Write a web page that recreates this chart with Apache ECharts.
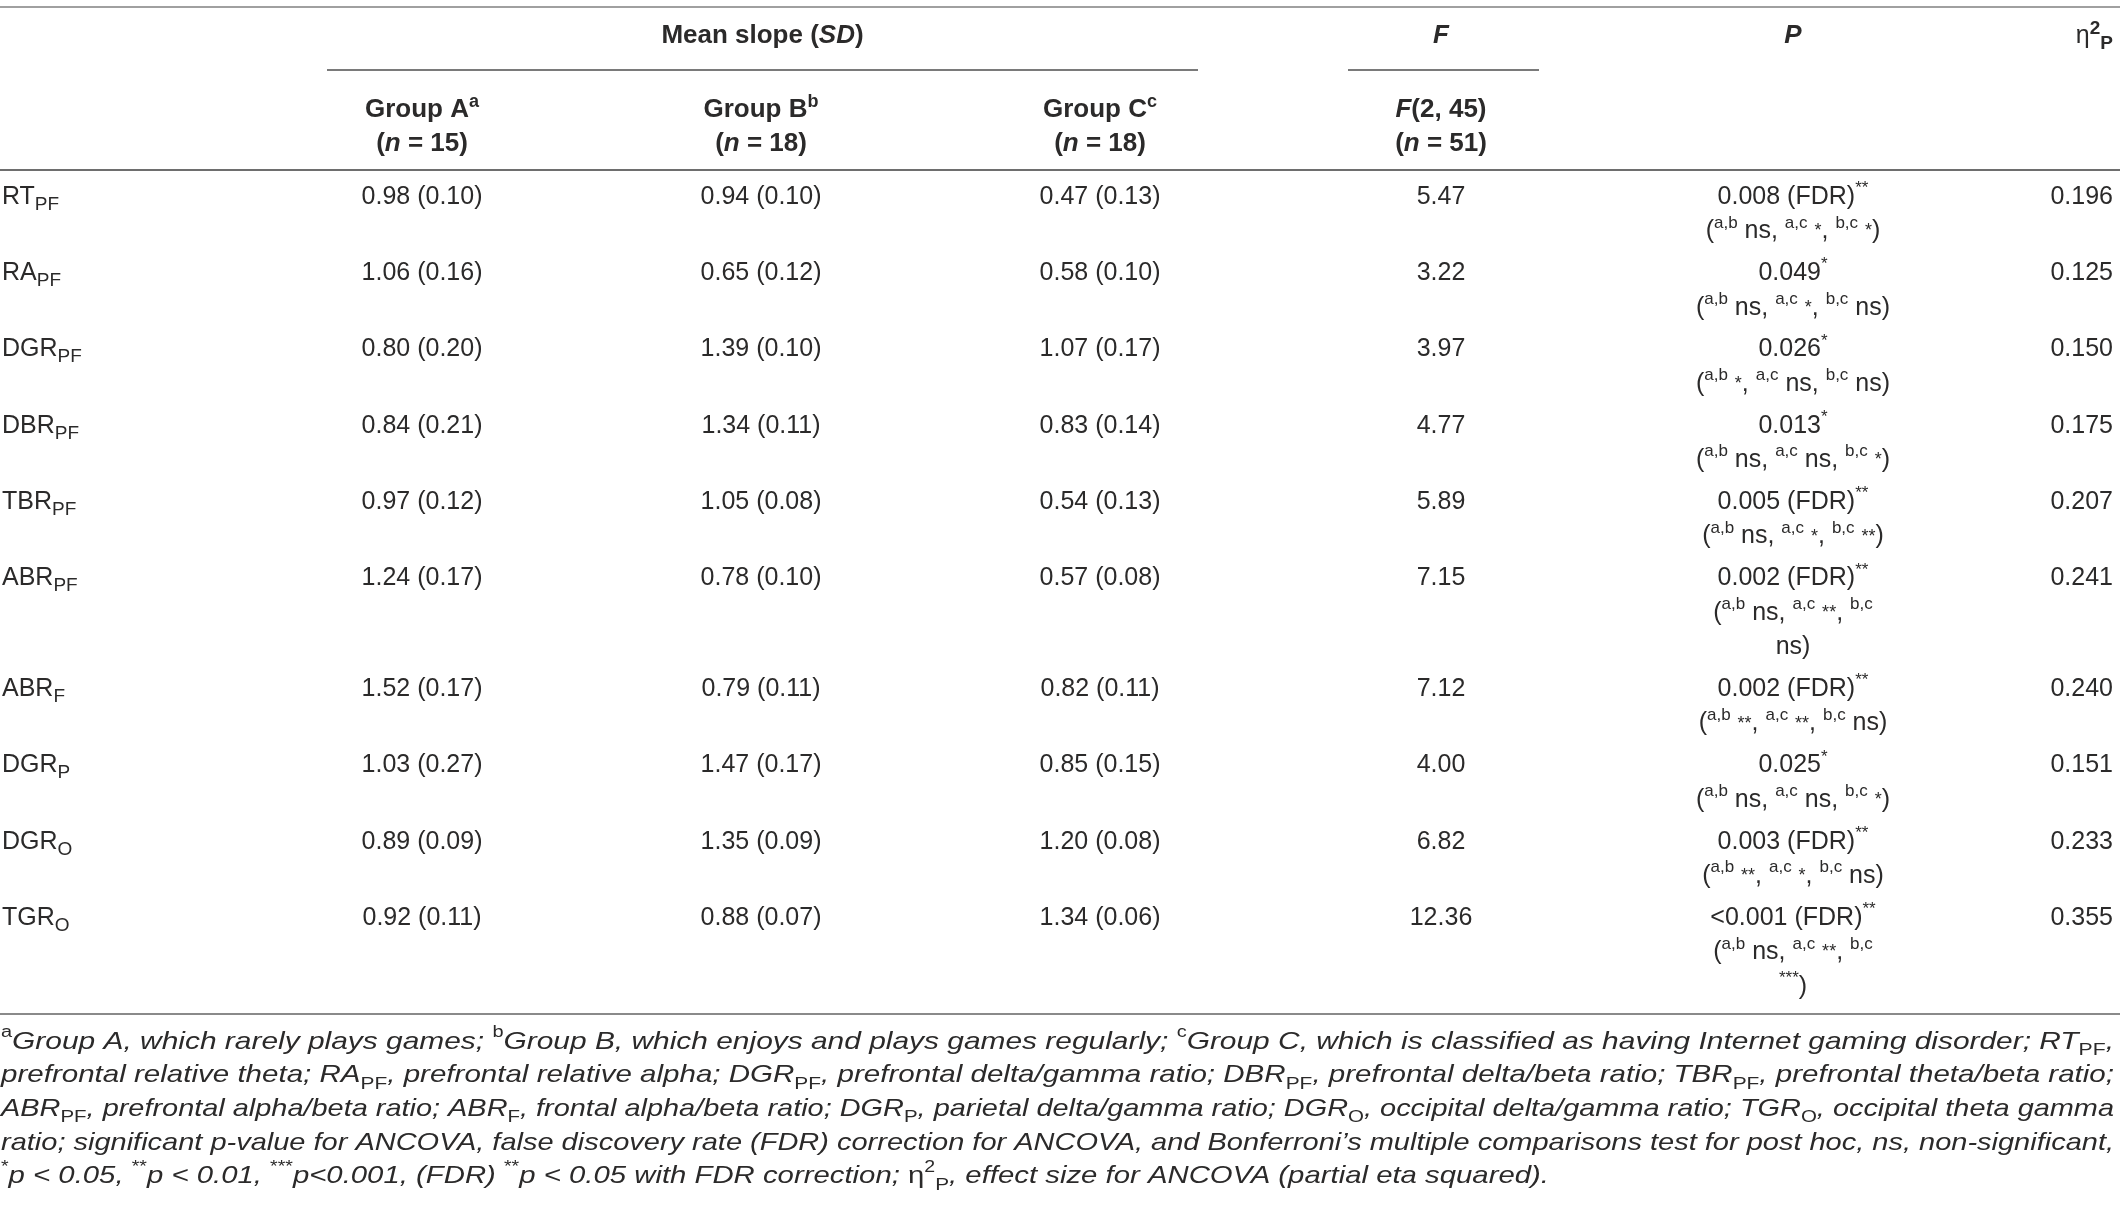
<!DOCTYPE html>
<html>
<head>
<meta charset="utf-8">
<script src="https://cdn.jsdelivr.net/npm/echarts@6/dist/echarts.min.js"></script>
<style>
    html, body { margin: 0; padding: 0; background: #fff; }
    #chart { width: 2120px; height: 1212px; }
</style>
</head>
<body>
<div id="chart"></div>
<script>
(function () {

    "use strict";

    // ---- table data -------------------------------------------------------
    var rowLabels = ['RT', 'RA', 'DGR', 'DBR', 'TBR', 'ABR', 'ABR', 'DGR', 'DGR', 'TGR'];
    var rowSubs = ['PF', 'PF', 'PF', 'PF', 'PF', 'PF', 'F', 'P', 'O', 'O'];

    var groupNames = ['Group A', 'Group B', 'Group C'];
    var groupMarks = ['a', 'b', 'c'];
    var groupN = [15, 18, 18];
    var fDf = [2, 45];
    var totalN = 51;

    var meanA = [0.98, 1.06, 0.80, 0.84, 0.97, 1.24, 1.52, 1.03, 0.89, 0.92];
    var sdA = [0.10, 0.16, 0.20, 0.21, 0.12, 0.17, 0.17, 0.27, 0.09, 0.11];
    var meanB = [0.94, 0.65, 1.39, 1.34, 1.05, 0.78, 0.79, 1.47, 1.35, 0.88];
    var sdB = [0.10, 0.12, 0.10, 0.11, 0.08, 0.10, 0.11, 0.17, 0.09, 0.07];
    var meanC = [0.47, 0.58, 1.07, 0.83, 0.54, 0.57, 0.82, 0.85, 1.20, 1.34];
    var sdC = [0.13, 0.10, 0.17, 0.14, 0.13, 0.08, 0.11, 0.15, 0.08, 0.06];

    var fValues = [5.47, 3.22, 3.97, 4.77, 5.89, 7.15, 7.12, 4.00, 6.82, 12.36];
    var pValues = ['0.008', '0.049', '0.026', '0.013', '0.005', '0.002', '0.002', '0.025', '0.003', '<0.001'];
    var pFdr = [true, false, false, false, true, true, true, false, true, true];
    var pStars = ['**', '*', '*', '*', '**', '**', '**', '*', '**', '**'];
    var postAB = ['ns', 'ns', '*', 'ns', 'ns', 'ns', '**', 'ns', '**', 'ns'];
    var postAC = ['*', '*', 'ns', 'ns', '*', '**', '**', 'ns', '*', '**'];
    var postBC = ['*', 'ns', 'ns', '*', '**', 'ns', 'ns', '*', 'ns', '***'];
    // post hoc line wraps before the last comparison in these rows
    var pWrap = [false, false, false, false, false, true, false, false, false, true];
    var etaSq = [0.196, 0.125, 0.150, 0.175, 0.207, 0.241, 0.240, 0.151, 0.233, 0.355];

    var footnotes = [
        '{fsup|a}Group A, which rarely plays games; {fsup|b}Group B, which enjoys and plays games regularly; {fsup|c}Group C, which is classified as having Internet gaming disorder; RT{fsub|PF},',
        'prefrontal relative theta; RA{fsub|PF}, prefrontal relative alpha; DGR{fsub|PF}, prefrontal delta/gamma ratio; DBR{fsub|PF}, prefrontal delta/beta ratio; TBR{fsub|PF}, prefrontal theta/beta ratio;',
        'ABR{fsub|PF}, prefrontal alpha/beta ratio; ABR{fsub|F}, frontal alpha/beta ratio; DGR{fsub|P}, parietal delta/gamma ratio; DGR{fsub|O}, occipital delta/gamma ratio; TGR{fsub|O}, occipital theta gamma',
        'ratio; significant p-value for ANCOVA, false discovery rate (FDR) correction for ANCOVA, and Bonferroni\u2019s multiple comparisons test for post hoc, ns, non-significant,',
        '{fsup|*}p < 0.05, {fsup|**}p < 0.01, {fsup|***}p<0.001, (FDR) {fsup|**}p < 0.05 with FDR correction; {feta|\u03b7}{fsup|2}{fsub|P}, effect size for ANCOVA (partial eta squared).'
    ];

    // ---- layout -------------------------------------------------------------
    var W = 2120, H = 1212;
    var FONT = "'Liberation Sans', Arial, Helvetica, sans-serif";
    var TEXT = '#2b2a2a';
    var colX = { label: 2, a: 422, b: 761, c: 1100, f: 1441, p: 1793, eta: 2113 };
    var LINE = 34.4, ROW_GAP = 7.5, FIRST_ROW = 197;

    function st(size, weight, style, extra) {
        var o = { fontFamily: FONT, fontSize: size, fontWeight: weight || 'normal', fontStyle: style || 'normal', fill: TEXT };
        for (var k in extra) { o[k] = extra[k]; }
        return o;
    }

    var bodyRich = {
        sub: st(19, 'normal', 'normal', { lineHeight: 20, verticalAlign: 'bottom' }),
        psup: st(17, 'normal', 'normal', { lineHeight: 21, verticalAlign: 'top' }),
        star: st(18, 'normal', 'normal', { lineHeight: 34 })
    };
    var headRich = {
        bi: st(26, 'bold', 'italic', { lineHeight: 34 }),
        sup: st(18, 'bold', 'normal', { lineHeight: 20, verticalAlign: 'top' }),
        eta: st(25, 'normal', 'normal', { lineHeight: 34 }),
        e2: st(19, 'bold', 'normal', { lineHeight: 20, verticalAlign: 'top' }),
        eP: st(19, 'bold', 'normal', { lineHeight: 22, verticalAlign: 'bottom' })
    };
    var footRich = {
        fsup: st(16, 'normal', 'normal', { lineHeight: 18, verticalAlign: 'top' }),
        fsub: st(17, 'normal', 'normal', { lineHeight: 20, verticalAlign: 'bottom' }),
        feta: st(24, 'normal', 'normal', { lineHeight: 34 })
    };
    var bodyBase = st(25, 'normal', 'normal', { lineHeight: 34 });
    var headBase = st(26, 'bold', 'normal', { lineHeight: 34 });
    var footBase = st(24, 'normal', 'italic', { lineHeight: 34 });

    // row positions follow the number of text lines in each row
    var rowY = [];
    var yCursor = FIRST_ROW;
    rowLabels.forEach(function (_, i) {
        rowY.push(yCursor);
        yCursor += (pWrap[i] ? 3 : 2) * LINE + ROW_GAP;
    });
    var last = rowLabels.length - 1;
    var tableBottom = rowY[last] + ((pWrap[last] ? 3 : 2) - 1) * LINE + 27;

    function sig(s, raised) {
        if (s === 'ns') { return 'ns'; }
        return '{' + (raised ? 'psup' : 'star') + '|' + s + '}';
    }

    // ---- cells ---------------------------------------------------------------
    var cells = [];
    function addCell(x, y, text, align) {
        cells.push({ x: x, y: y, text: text, align: align || 'center' });
    }

    rowLabels.forEach(function (lab, i) {
        var y = rowY[i];
        addCell(colX.label, y, lab + '{sub|' + rowSubs[i] + '}', 'left');
        addCell(colX.a, y, meanA[i].toFixed(2) + ' (' + sdA[i].toFixed(2) + ')');
        addCell(colX.b, y, meanB[i].toFixed(2) + ' (' + sdB[i].toFixed(2) + ')');
        addCell(colX.c, y, meanC[i].toFixed(2) + ' (' + sdC[i].toFixed(2) + ')');
        addCell(colX.f, y, fValues[i].toFixed(2));
        addCell(colX.p, y, pValues[i] + (pFdr[i] ? ' (FDR)' : '') + '{psup|' + pStars[i] + '}');
        var head = '({psup|a,b} ' + sig(postAB[i]) + ', {psup|a,c} ' + sig(postAC[i]) + ', {psup|b,c}';
        if (pWrap[i]) {
            addCell(colX.p, y + LINE, head);
            addCell(colX.p, y + 2 * LINE, sig(postBC[i], true) + ')');
        } else {
            addCell(colX.p, y + LINE, head + ' ' + sig(postBC[i]) + ')');
        }
        addCell(colX.eta, y, etaSq[i].toFixed(3), 'right');
    });

    // ---- header and rules ----------------------------------------------------
    var graphics = [];
    function rule(x1, x2, y, color, width) {
        graphics.push({
            type: 'line', silent: true,
            shape: { x1: x1, y1: y, x2: x2, y2: y },
            style: { stroke: color, lineWidth: width }
        });
    }
    function headText(x, y, text, align) {
        graphics.push({
            type: 'text', silent: true, x: x, y: y,
            style: Object.assign({}, headBase, { text: text, rich: headRich, align: align || 'center', verticalAlign: 'middle' })
        });
    }

    rule(0, W, 7, '#a0a0a0', 2);
    rule(327, 1198, 70, '#7a7a7a', 2);
    rule(1348, 1539, 70, '#7a7a7a', 2);
    rule(0, W, 170, '#6e6e6e', 2);
    rule(0, W, tableBottom, '#8a8a8a', 2);

    headText((327 + 1198) / 2, 36, 'Mean slope ({bi|SD})');
    headText(colX.f, 36, '{bi|F}');
    headText(colX.p, 36, '{bi|P}');
    headText(colX.eta, 36, '{eta|\u03b7}{e2|2}{eP|P}', 'right');
    [colX.a, colX.b, colX.c].forEach(function (x, g) {
        headText(x, 110, groupNames[g] + '{sup|' + groupMarks[g] + '}');
        headText(x, 144, '({bi|n} = ' + groupN[g] + ')');
    });
    headText(colX.f, 110, '{bi|F}(' + fDf.join(', ') + ')');
    headText(colX.f, 144, '({bi|n} = ' + totalN + ')');

    // ---- footnote: each line stretched to the full width like the print -------
    var ctx = document.createElement('canvas').getContext('2d');
    function fontOf(s) {
        return s.fontStyle + ' ' + s.fontWeight + ' ' + s.fontSize + 'px ' + s.fontFamily;
    }
    function richWidth(str) {
        var re = /\{(\w+)\|([^}]*)\}|([^{}]+)/g, m, w = 0;
        while ((m = re.exec(str))) {
            ctx.font = fontOf(m[1] ? footRich[m[1]] : footBase);
            w += ctx.measureText(m[1] ? m[2] : m[3]).width;
        }
        return w;
    }
    var footLeft = 1, footRight = 2114, footTop = tableBottom + 28, footLine = 33.7;
    var scales = footnotes.slice(0, -1).map(function (line) {
        return (footRight - footLeft) / richWidth(line);
    });
    var meanScale = scales.reduce(function (a, b) { return a + b; }, 0) / scales.length;
    footnotes.forEach(function (line, k) {
        graphics.push({
            type: 'text', silent: true,
            x: footLeft, y: footTop + k * footLine,
            scaleX: k < scales.length ? scales[k] : meanScale,
            style: Object.assign({}, footBase, { text: line, rich: footRich, align: 'left', verticalAlign: 'middle' })
        });
    });

    // ---- chart ------------------------------------------------------------------
    var chart = echarts.init(document.getElementById('chart'), null, { renderer: 'canvas' });
    chart.setOption({
        backgroundColor: '#ffffff',
        animation: false,
        grid: { left: 0, right: 0, top: 0, bottom: 0 },
        xAxis: { type: 'value', min: 0, max: W, show: false },
        yAxis: { type: 'value', min: 0, max: H, inverse: true, show: false },
        graphic: graphics,
        series: [{
            type: 'custom',
            silent: true,
            data: cells.map(function (c) { return [c.x, c.y]; }),
            renderItem: function (params, api) {
                var c = cells[params.dataIndex];
                var pt = api.coord([api.value(0), api.value(1)]);
                return {
                    type: 'text',
                    x: pt[0],
                    y: pt[1],
                    style: Object.assign({}, bodyBase, {
                        text: c.text,
                        rich: bodyRich,
                        align: c.align,
                        verticalAlign: 'middle'
                    })
                };
            }
        }]
    });

})();
</script>
</body>
</html>
